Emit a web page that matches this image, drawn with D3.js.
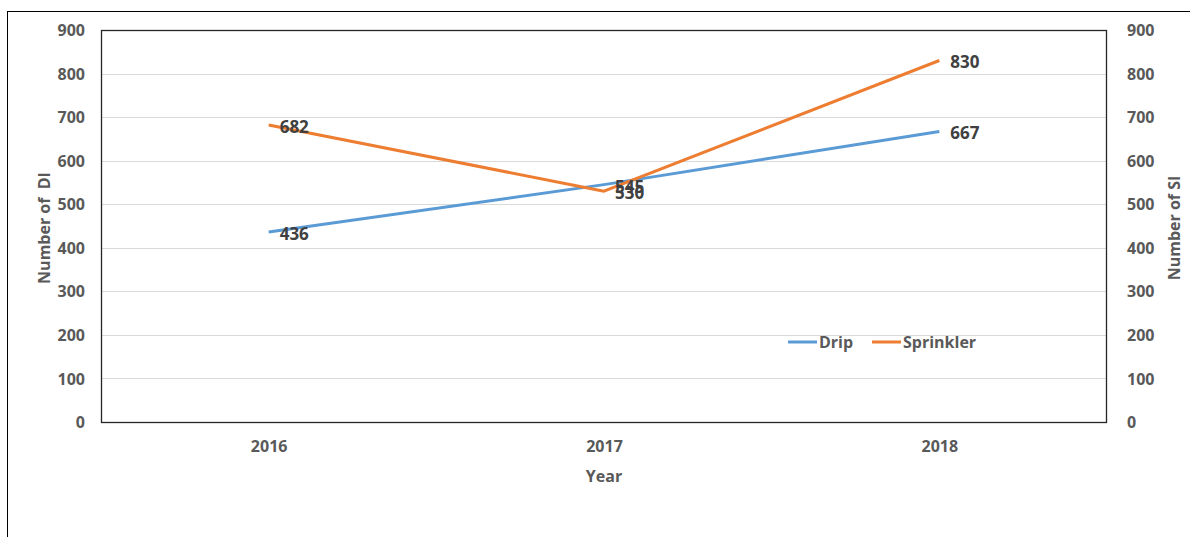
<!DOCTYPE html>
<html>
<head>
<meta charset="utf-8">
<script src="https://cdn.jsdelivr.net/npm/d3@7"></script>
<style>
  html, body { margin: 0; padding: 0; background: #fff; }
  svg { display: block; }
  text { font-family: "Open Sans", "Noto Sans", sans-serif; font-weight: bold; fill: #595959; }
</style>
</head>
<body>
<svg id="chart" width="1190" height="537"></svg>
<script>
// Irrigation systems installed per year
const years = ["2016", "2017", "2018"];
const dripValues = [436, 545, 667];
const sprinklerValues = [682, 530, 830];
const yTicks = [0, 100, 200, 300, 400, 500, 600, 700, 800, 900];
const seriesNames = ["Drip", "Sprinkler"];
const seriesColors = ["#5b9bd5", "#ed7d31"];

const svg = d3.select("#chart");
const plot = { left: 101, right: 1107, top: 30, bottom: 422 };

// Outer chart frame
svg.append("rect")
  .attr("x", 7.5).attr("y", 11.5)
  .attr("width", 1200).attr("height", 600)
  .attr("fill", "none").attr("stroke", "#000").attr("stroke-width", 1);

const x = d3.scalePoint().domain(years).range([plot.left, plot.right]).padding(0.5);
const yL = d3.scaleLinear().domain([0, 900]).range([plot.bottom, plot.top]);
const yR = d3.scaleLinear().domain([0, 900]).range([plot.bottom, plot.top]);

// Horizontal gridlines
svg.append("g")
  .selectAll("line")
  .data(yTicks.filter(d => d > 0 && d < 900))
  .join("line")
  .attr("x1", plot.left).attr("x2", plot.right)
  .attr("y1", d => Math.round(yL(d)) + 0.5).attr("y2", d => Math.round(yL(d)) + 0.5)
  .attr("stroke", "#d9d9d9").attr("stroke-width", 1);

// Plot area border
svg.append("rect")
  .attr("x", plot.left + 0.5).attr("y", plot.top + 0.5)
  .attr("width", plot.right - plot.left - 1).attr("height", plot.bottom - plot.top)
  .attr("fill", "none").attr("stroke", "#262626").attr("stroke-width", 1.3);

// Left axis labels
const leftAxis = svg.append("g")
  .attr("transform", `translate(${plot.left},0)`)
  .call(d3.axisLeft(yL).tickValues(yTicks).tickSize(0).tickPadding(16));
leftAxis.select(".domain").remove();
leftAxis.selectAll("text").style("font-size", "16px").attr("dy", "0.35em").attr("fill", "#595959");

// Right axis labels
const rightAxis = svg.append("g")
  .attr("transform", `translate(${plot.right},0)`)
  .call(d3.axisRight(yR).tickValues(yTicks).tickSize(0).tickPadding(20));
rightAxis.select(".domain").remove();
rightAxis.selectAll("text").style("font-size", "16px").attr("dy", "0.35em").attr("fill", "#595959");

// Bottom axis labels
const bottomAxis = svg.append("g")
  .attr("transform", `translate(0,${plot.bottom})`)
  .call(d3.axisBottom(x).tickSize(0).tickPadding(19));
bottomAxis.select(".domain").remove();
bottomAxis.selectAll("text").style("font-size", "16px").attr("dy", "0.71em").attr("fill", "#595959");

// Axis titles
svg.append("text")
  .attr("transform", `translate(50,${(plot.top + plot.bottom) / 2 + 2}) rotate(-90)`)
  .attr("text-anchor", "middle").style("font-size", "16px")
  .style("white-space", "pre")
  .text("Number of  DI");
svg.append("text")
  .attr("transform", `translate(1180,${(plot.top + plot.bottom) / 2 + 2}) rotate(-90)`)
  .attr("text-anchor", "middle").style("font-size", "16px")
  .text("Number of SI");
svg.append("text")
  .attr("x", x("2017")).attr("y", 482)
  .attr("text-anchor", "middle").style("font-size", "16px")
  .text("Year");

// Series lines
const series = [
  { name: seriesNames[0], values: dripValues, color: seriesColors[0], scale: yL },
  { name: seriesNames[1], values: sprinklerValues, color: seriesColors[1], scale: yR }
];

series.forEach(s => {
  const line = d3.line().x((d, i) => x(years[i])).y(d => s.scale(d));
  svg.append("path")
    .datum(s.values)
    .attr("d", line)
    .attr("fill", "none")
    .attr("stroke", s.color)
    .attr("stroke-width", 3)
    .attr("stroke-linejoin", "round");
});

// Data labels, placed to the right of each point
series.forEach(s => {
  svg.append("g")
    .selectAll("text")
    .data(s.values)
    .join("text")
    .attr("x", (d, i) => x(years[i]) + 11)
    .attr("y", d => s.scale(d) + 2)
    .attr("dy", "0.35em")
    .style("font-size", "17px")
    .style("fill", "#404040")
    .text(d => d);
});

// Legend
const legendItems = [
  { name: seriesNames[0], color: seriesColors[0], x: 788 },
  { name: seriesNames[1], color: seriesColors[1], x: 872 }
];
const legend = svg.append("g");
legendItems.forEach(item => {
  legend.append("line")
    .attr("x1", item.x).attr("x2", item.x + 29)
    .attr("y1", 342).attr("y2", 342)
    .attr("stroke", item.color).attr("stroke-width", 3);
  legend.append("text")
    .attr("x", item.x + 31).attr("y", 342).attr("dy", "0.35em")
    .style("font-size", "16px")
    .text(item.name);
});
</script>
</body>
</html>
